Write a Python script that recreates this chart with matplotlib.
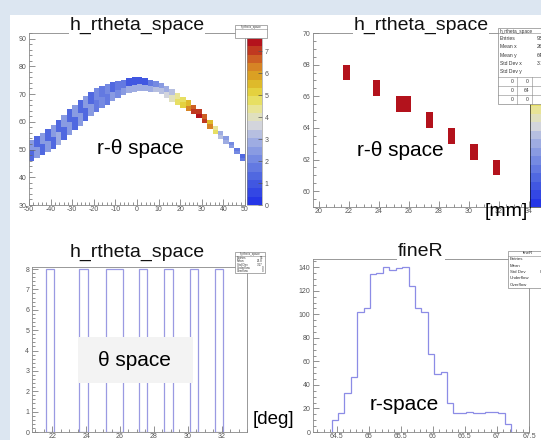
import numpy as np
import matplotlib
matplotlib.use("Agg")
import matplotlib.pyplot as plt
from matplotlib.colors import LinearSegmentedColormap, Normalize
from matplotlib.patches import Rectangle
from matplotlib.ticker import MultipleLocator, FormatStrFormatter
from matplotlib.cm import ScalarMappable

plt.rcParams['font.family'] = ['Liberation Sans', 'DejaVu Sans']
plt.rcParams['axes.unicode_minus'] = False

W, H = 541, 440

# --- r-theta band (top left): bin centres in theta, band edges in r, counts
theta_c = np.arange(-48.75, 50, 2.5)
band_lo = [46, 47, 48, 49, 50.2, 51.7, 53.4, 55.1, 56.9, 58.6,
           60.4, 62.1, 63.6, 64.9, 66.1, 67.4, 68.5, 69.5, 70.2, 70.8,
           71, 71, 70.9, 70.6, 69.9, 68.6, 67.3, 66.1, 65, 64,
           62.7, 61.2, 59.5, 57.5, 55.6, 53.8, 52.1, 50.4, 48.3, 45.8]
band_hi = [53.5, 55, 56, 57.4, 58.7, 60.6, 62.6, 64.5, 66.2, 67.7,
           69.2, 70.9, 72.1, 73, 73.7, 74.2, 74.7, 75.2, 75.8, 76,
           76, 75.8, 75.2, 74.8, 74.1, 73, 71.7, 70.3, 69, 67.7,
           66.2, 64.6, 62.8, 60.6, 58.6, 56.6, 54.7, 52.6, 50.5, 48.3]
cnt_lo = [1.2, 2.6, 1.4, 2.4, 1.3, 2.7, 1.5, 2.3, 1.2, 2.6,
          1.4, 2.5, 1.6, 2.2, 1.8, 2.4, 2.0, 2.6, 2.8, 3.0,
          3.0, 2.9, 2.8, 3.2, 3.4, 3.6, 3.9, 4.6, 5.2, 6.4,
          7.2, 7.5, 7.0, 6.2, 4.8, 3.4, 2.8, 2.4, 2.0, 1.6]
cnt_hi = [2.4, 1.3, 2.6, 1.2, 2.5, 1.4, 2.4, 1.2, 2.6, 1.5,
          2.3, 1.3, 2.2, 1.6, 2.0, 1.5, 1.8, 1.6, 1.0, 0.9,
          0.9, 1.0, 1.6, 2.2, 2.6, 2.8, 3.4, 4.2, 4.8, 5.6,
          6.8, 7.2, 6.6, 5.4, 4.4, 3.0, 2.4, 2.0, 1.6, 1.4]

# --- zoomed cells (top right) and theta projection (bottom left)
cell_theta = [21.6, 23.6, 25.15, 27.12, 28.62, 30.12, 31.6]
cell_width = [0.5, 0.5, 1.0, 0.5, 0.5, 0.5, 0.5]
cell_r = [67, 66, 65, 64, 63, 62, 61]
theta_counts = [8, 8, 8, 8, 8, 8, 8]

# --- fineR histogram (bottom right)
fine_edges = np.linspace(64.42, 67.22, 29)
fine_counts = [10, 16, 33, 47, 102, 105, 134, 135, 140, 138, 139, 140, 124, 105,
               102, 66, 49, 51, 25, 16, 16, 17, 16, 16, 17, 17, 16, 7]

cmap = LinearSegmentedColormap.from_list(
    "rootpal",
    [(0.0, "#2536e6"), (0.14, "#4a62e0"), (0.28, "#7b8fe2"), (0.40, "#aab6e2"),
     (0.48, "#d6d8dc"), (0.56, "#e8e6a8"), (0.66, "#e6dc48"), (0.76, "#dcb022"),
     (0.86, "#d57a26"), (1.0, "#b4121c")], N=20)
norm = Normalize(0, 7.6)

fig = plt.figure(figsize=(W / 100, H / 100), dpi=100, facecolor="#dce6f1")
fig.add_artist(Rectangle((10 / W, 0), (W - 10) / W, (H - 15) / H,
                         transform=fig.transFigure, facecolor="white",
                         edgecolor="none", zorder=-5))


def px_axes(x0, y0, x1, y1, **kw):
    return fig.add_axes([x0 / W, 1 - y1 / H, (x1 - x0) / W, (y1 - y0) / H], **kw)


def root_style(ax, xmaj, xmin, ymaj, ymin):
    ax.xaxis.set_major_locator(MultipleLocator(xmaj))
    ax.xaxis.set_minor_locator(MultipleLocator(xmin))
    ax.yaxis.set_major_locator(MultipleLocator(ymaj))
    ax.yaxis.set_minor_locator(MultipleLocator(ymin))
    ax.xaxis.set_major_formatter(FormatStrFormatter("%g"))
    ax.yaxis.set_major_formatter(FormatStrFormatter("%g"))
    ax.tick_params(which="both", direction="in", color="#666666", width=0.5,
                   labelsize=5, labelcolor="#555555", pad=2)
    ax.tick_params(axis="x", pad=1)
    ax.tick_params(which="major", length=4)
    ax.tick_params(which="minor", length=2)
    for s in ax.spines.values():
        s.set_color("#888888")
        s.set_linewidth(0.6)


# top left
ax1 = px_axes(29, 33, 245, 205)
lo = np.array(band_lo)
hi = np.array(band_hi)
mid = (lo + hi) / 2
ax1.bar(theta_c, mid - lo, bottom=lo, width=2.5, color=cmap(norm(cnt_lo)), linewidth=0)
ax1.bar(theta_c, hi - mid, bottom=mid, width=2.5, color=cmap(norm(cnt_hi)), linewidth=0)
ax1.set_xlim(-50, 50)
ax1.set_ylim(30, 92)
root_style(ax1, 10, 2, 10, 2)

cax1 = px_axes(247, 38, 262, 205)
cb1 = fig.colorbar(ScalarMappable(norm=norm, cmap=cmap), cax=cax1)
cb1.set_ticks(range(8))
cb1.outline.set_linewidth(0.4)
cb1.outline.set_edgecolor("#888888")
cax1.tick_params(direction="in", length=3, width=0.5, color="#555555",
                 labelsize=5, labelcolor="#555555", pad=2)

# top right
ax2 = px_axes(313, 33, 530, 207)
ax2.bar(cell_theta, [1] * len(cell_r), bottom=cell_r, width=cell_width,
        align="edge", color="#b3121c", linewidth=0)
ax2.set_xlim(19.6, 34.1)
ax2.set_ylim(59, 70)
root_style(ax2, 2, 0.5, 2, 0.5)

cax2 = px_axes(530, 38, 548, 207)
cb2 = fig.colorbar(ScalarMappable(norm=norm, cmap=cmap), cax=cax2)
cb2.set_ticks([])
cb2.outline.set_linewidth(0.4)

# bottom left
ax3 = px_axes(32, 267, 247, 432)
ax3.bar(cell_theta, theta_counts, width=cell_width, align="edge",
        fill=False, edgecolor="#9a9ae2", linewidth=0.9)
ax3.set_xlim(20.8, 33.5)
ax3.set_ylim(0, 8.1)
root_style(ax3, 2, 0.5, 1, 0.2)

# bottom right
ax4 = px_axes(313, 259, 529, 432)
ax4.stairs(fine_counts, fine_edges, color="#8c8ce6", linewidth=0.9)
ax4.set_xlim(64.13, 67.5)
ax4.set_ylim(0, 147)
root_style(ax4, 0.5, 0.1, 20, 5)

# overlay in pixel coordinates for titles, labels and stat boxes
ov = fig.add_axes([0, 0, 1, 1], zorder=10)
ov.set_xlim(0, W)
ov.set_ylim(H, 0)
ov.axis("off")
ov.patch.set_alpha(0)

for x, y, t in [(137, 25, "h_rtheta_space"), (421, 25, "h_rtheta_space"),
                (137, 252, "h_rtheta_space"), (421, 252, "fineR")]:
    ov.text(x, y, t, fontsize=14, ha="center", va="center", color="#111111",
            bbox=dict(facecolor="white", edgecolor="none", pad=0.5))

ov.text(140, 148, "r-\u03b8 space", fontsize=15, ha="center", va="center")
ov.text(400, 150, "r-\u03b8 space", fontsize=15, ha="center", va="center")
ov.add_patch(Rectangle((78, 337), 115, 46, facecolor="#f3f3f3", edgecolor="none"))
ov.text(134, 361, "\u03b8 space", fontsize=15, ha="center", va="center")
ov.text(404, 404, "r-space", fontsize=15, ha="center", va="center")
ov.text(273, 419, "[deg]", fontsize=13.5, ha="center", va="center")
ov.text(506, 212, "[mm]", fontsize=14, ha="center", va="center")


def stat_box(x0, y0, x1, y1, header, rows, fs, hh):
    ov.add_patch(Rectangle((x0, y0), x1 - x0, y1 - y0, facecolor="white",
                           edgecolor="#888888", linewidth=0.5))
    ov.plot([x0, x1], [y0 + hh, y0 + hh], color="#888888", lw=0.4)
    ov.text((x0 + x1) / 2, y0 + hh / 2, header, fontsize=fs, ha="center",
            va="center", color="#333333", clip_on=True)
    step = (y1 - y0 - hh) / max(len(rows), 1)
    for i, (k, v) in enumerate(rows):
        yy = y0 + hh + step * (i + 0.5)
        ov.text(x0 + 2, yy, k, fontsize=fs, va="center", color="#333333")
        ov.text(x1 - 2, yy, v, fontsize=fs, va="center", ha="right", color="#333333")


stat_box(235, 25, 267, 38, "h_rtheta_space", [("", ""), ("", "")], 2.2, 4)
stat_box(235, 252, 265, 273, "h_rtheta_space",
         [("Entries", "56"), ("Mean", "26.8"), ("Std Dev", "3.17"),
          ("Underflow", "0"), ("Overflow", "0")], 2.2, 4)
stat_box(508, 251, 548, 288, "fineR",
         [("Entries", "1"), ("Mean", "6"), ("Std Dev", "0.3"),
          ("Underflow", ""), ("Overflow", "")], 3.2, 5)

# top right stats box with the 3x3 grid underneath
ov.add_patch(Rectangle((498, 28), 50, 76, facecolor="white",
                       edgecolor="#888888", linewidth=0.5))
ov.plot([498, 548], [33.5, 33.5], color="#888888", lw=0.4)
ov.text(500, 31, "h_rtheta_space", fontsize=3.4, va="center", color="#333333")
for i, (k, v) in enumerate([("Entries", "930"), ("Mean x", "26"), ("Mean y", "64."),
                            ("Std Dev x", "3.1"), ("Std Dev y", "")]):
    ov.text(500, 38.5 + 8.3 * i, k, fontsize=3.6, va="center", color="#333333")
    ov.text(537, 38.5 + 8.3 * i, v, fontsize=3.6, va="center", color="#333333")
for yy in [77, 86, 95]:
    ov.plot([498, 548], [yy, yy], color="#888888", lw=0.4)
for xx in [517, 532]:
    ov.plot([xx, xx], [77, 104], color="#888888", lw=0.4)
for i, (a, b) in enumerate([("0", "0"), ("0", "64"), ("0", "0")]):
    ov.text(514, 81.5 + 9 * i, a, fontsize=3.6, ha="right", va="center", color="#333333")
    ov.text(529, 81.5 + 9 * i, b, fontsize=3.6, ha="right", va="center", color="#333333")

fig.savefig("out.png", dpi=100, facecolor=fig.get_facecolor())
